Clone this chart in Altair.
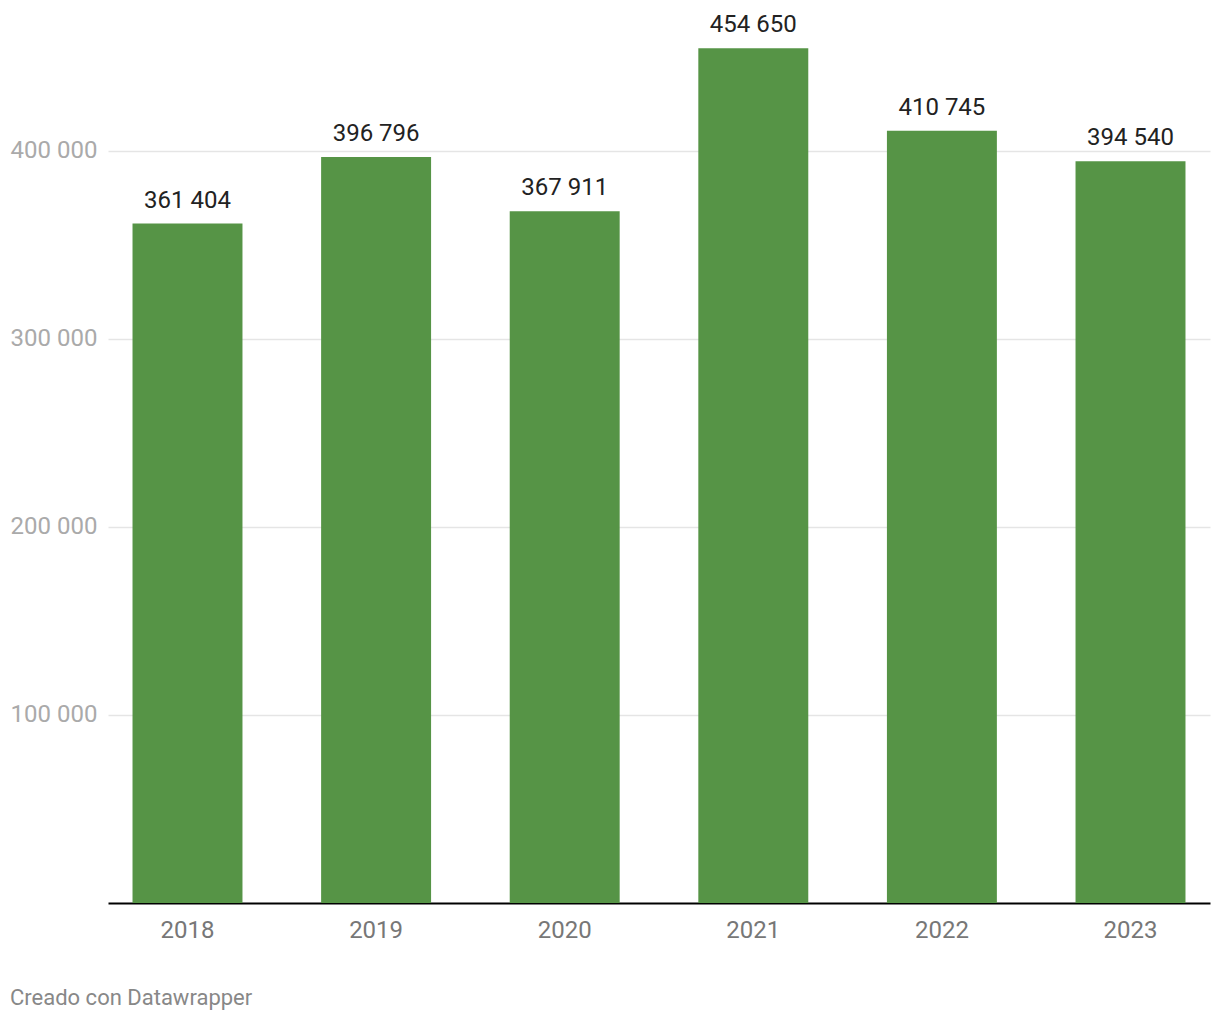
import altair as alt
import pandas as pd

years = ["2018", "2019", "2020", "2021", "2022", "2023"]
values = [361404, 396796, 367911, 454650, 410745, 394540]
labels = [f"{v:,}".replace(",", " ") for v in values]
y_ticks = [100000, 200000, 300000, 400000]

df = pd.DataFrame({"year": years, "value": values, "label": labels})

FONT = "Roboto"

x = alt.X(
    "year:N",
    sort=years,
    title=None,
    scale=alt.Scale(paddingInner=0.417, paddingOuter=0.13),
    axis=alt.Axis(
        domainColor="#000000",
        domainWidth=2,
        ticks=False,
        tickSize=0,
        labelColor="#777777",
        labelFontSize=24,
        labelFont=FONT,
        labelAngle=0,
        labelBaseline="middle",
        labelPadding=27,
        grid=False,
    ),
)

y = alt.Y(
    "value:Q",
    title=None,
    scale=alt.Scale(domain=[0, 479787], nice=False, zero=True),
    axis=alt.Axis(
        values=y_ticks,
        domain=False,
        ticks=False,
        tickSize=0,
        labelAlign="left",
        labelBaseline="middle",
        labelPadding=98,
        labelColor="#aaaaaa",
        labelFontSize=24,
        labelFont=FONT,
        labelExpr="replace(format(datum.value, ','), /,/g, ' ')",
        gridColor="#e5e5e5",
        gridWidth=1.5,
    ),
)

bars = alt.Chart(df).mark_bar(color="#569446").encode(x=x, y=y)

text = alt.Chart(df).mark_text(
    baseline="alphabetic",
    dy=-16,
    fontSize=24,
    font=FONT,
    color="#222222",
).encode(x=alt.X("year:N", sort=years), y="value:Q", text="label:N")

chart = (
    alt.layer(bars, text)
    .properties(
        width=1102,
        height=902,
        background="white",
        padding={"left": 108, "top": 1, "right": 10, "bottom": 117},
        autosize=alt.AutoSizeParams(type="none"),
        title=alt.TitleParams(
            "Creado con Datawrapper",
            orient="bottom",
            anchor="start",
            frame="bounds",
            font=FONT,
            fontSize=22,
            fontWeight="normal",
            color="#888888",
            offset=46,
        ),
    )
    .configure_view(stroke=None, strokeWidth=0)
)

chart.save("out.html", embed_options={"renderer": "svg", "actions": False})
